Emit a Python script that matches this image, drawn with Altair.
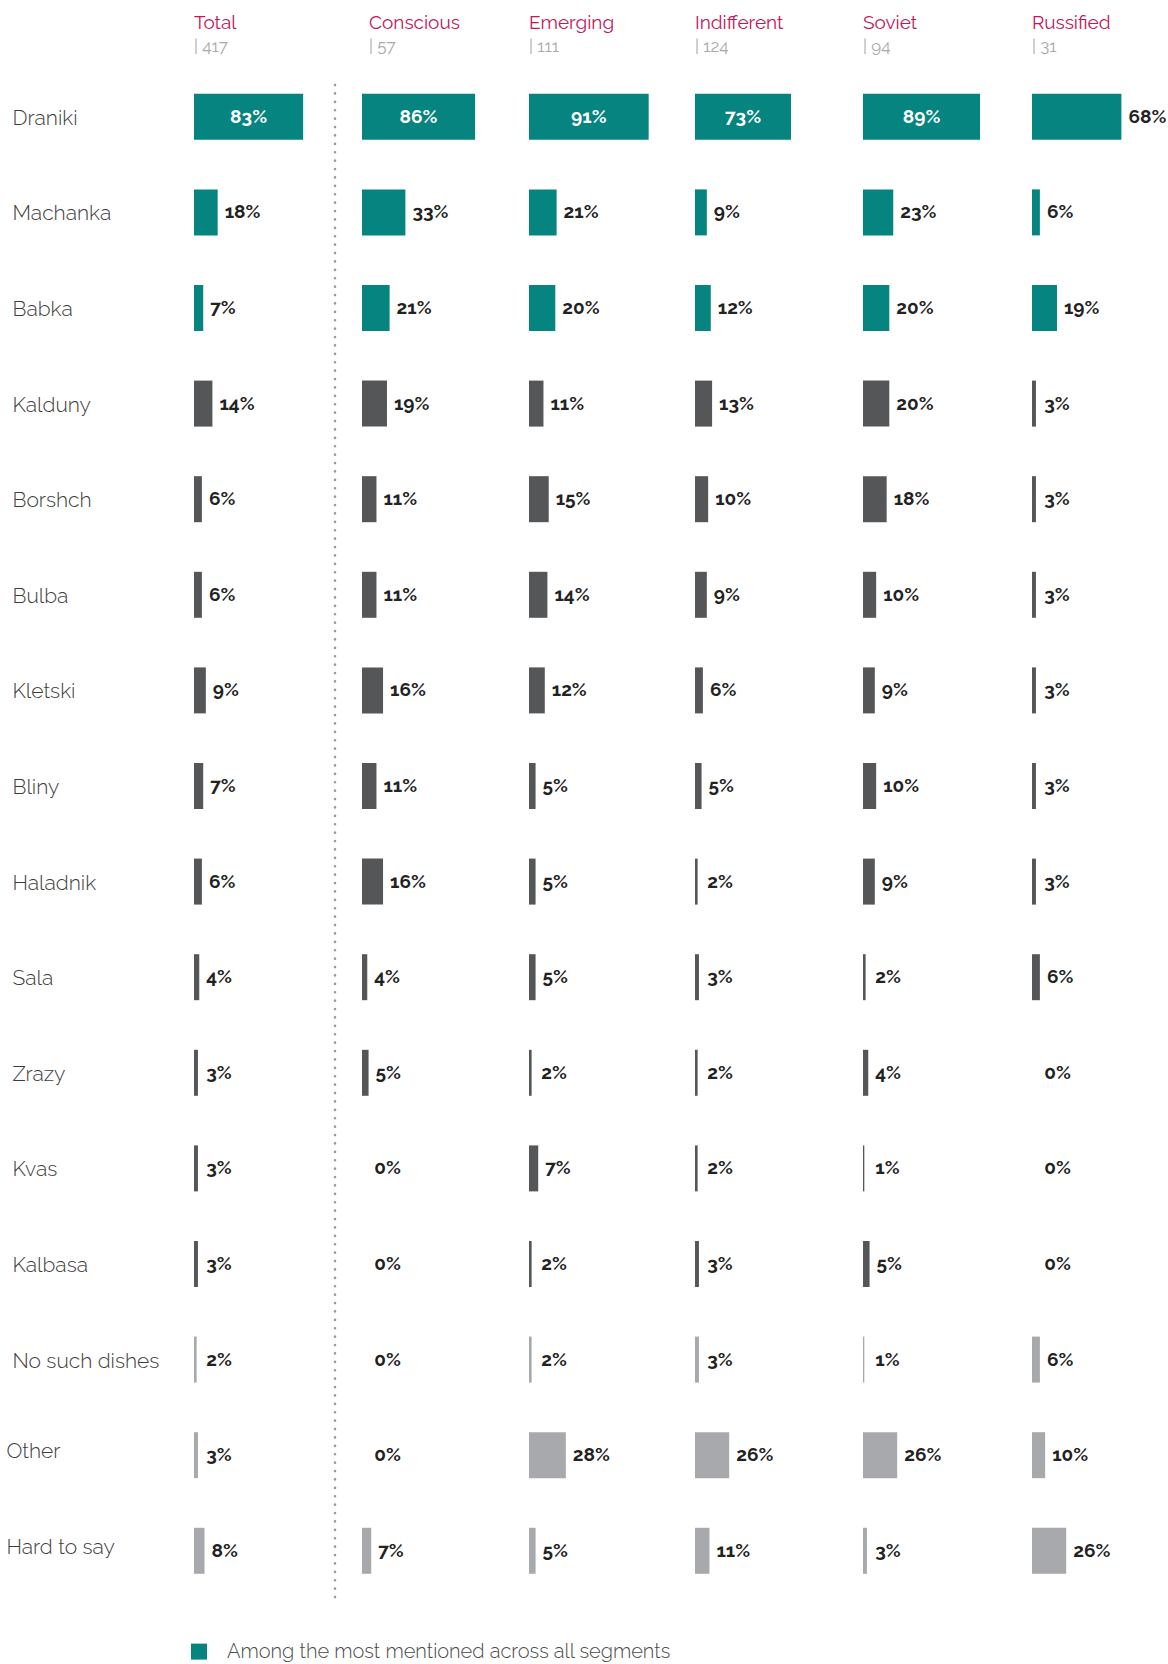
import altair as alt
import pandas as pd

# ---------------- data ----------------
dishes = ["Draniki", "Machanka", "Babka", "Kalduny", "Borshch", "Bulba", "Kletski",
          "Bliny", "Haladnik", "Sala", "Zrazy", "Kvas", "Kalbasa",
          "No such dishes", "Other", "Hard to say"]
dish_group = ["top"] * 3 + ["mid"] * 10 + ["low"] * 3

segments = ["Total", "Conscious", "Emerging", "Indifferent", "Soviet", "Russified"]
bases = [417, 57, 111, 124, 94, 31]

total = [83, 18, 7, 14, 6, 6, 9, 7, 6, 4, 3, 3, 3, 2, 3, 8]
conscious = [86, 33, 21, 19, 11, 11, 16, 11, 16, 4, 5, 0, 0, 0, 0, 7]
emerging = [91, 21, 20, 11, 15, 14, 12, 5, 5, 5, 2, 7, 2, 2, 28, 5]
indifferent = [73, 9, 12, 13, 10, 9, 6, 5, 2, 3, 2, 2, 3, 3, 26, 11]
soviet = [89, 23, 20, 20, 18, 10, 9, 10, 9, 2, 4, 1, 5, 1, 26, 3]
russified = [68, 6, 19, 3, 3, 3, 3, 3, 3, 6, 0, 0, 0, 6, 10, 26]
series = [total, conscious, emerging, indifferent, soviet, russified]

legend_label = "Among the most mentioned across all segments"

# ---------------- style ----------------
TEAL = "#058480"
DARK = "#555658"
LIGHT = "#a8a9ac"
CRIMSON = "#c0185b"
FONT = "Raleway, 'Open Sans', Lato, sans-serif"
NUMFONT = "Raleway, Lato, 'Open Sans', sans-serif"

PX = 1.315           # pixels per percentage point
ROW_STEP = 95.6
N = len(dishes)
H = ROW_STEP * N
BAR_H = 46
PIN = 1 - BAR_H / ROW_STEP
widths = [168.0, 167.0, 165.8, 167.5, 168.3, 130]
title_dx = [0, 7, 0, 0, 0, 0]
shifted = "datum.value == 'Other' || datum.value == 'Hard to say'"

color_scale = alt.Scale(domain=["top", "mid", "low"], range=[TEAL, DARK, LIGHT])
legend = alt.Legend(
    title=None, values=["top"], labelExpr=f"'{legend_label}'",
    orient="none", legendX=-5, legendY=H + 43,
    symbolType="square", symbolSize=256, symbolStrokeWidth=0, symbolOpacity=1,
    labelFontSize=20, labelFont=FONT, labelFontWeight=300, labelColor="#4a4a4a",
    labelOffset=18, labelLimit=700,
)


def panel(i):
    df = pd.DataFrame({"dish": dishes, "group": dish_group, "value": series[i]})
    w = widths[i]
    xscale = alt.Scale(domain=[0, w / PX], nice=False, zero=True)
    if i == 0:
        yaxis = alt.Axis(title=None, domain=False, ticks=False, tickSize=0,
                         labelAlign="left",
                         labelPadding={"condition": {"test": shifted, "value": 188}, "value": 182},
                         labelOffset={"condition": {"test": shifted, "value": -3}, "value": 2},
                         labelFontSize=21,
                         labelFont=FONT, labelFontWeight=300, labelColor="#3c3c3c",
                         labelLimit=220, grid=False)
    else:
        yaxis = None
    y = alt.Y("dish:N", sort=dishes,
              scale=alt.Scale(paddingInner=PIN, paddingOuter=PIN / 2, round=False),
              axis=yaxis)
    base = alt.Chart(df)
    bars = base.mark_bar().encode(
        x=alt.X("value:Q", scale=xscale, axis=None),
        y=y,
        color=alt.Color("group:N", scale=color_scale, legend=legend),
    )
    inside = base.transform_filter("datum.value >= 70").transform_calculate(
        mid="datum.value / 2", label="datum.value + '%'"
    ).mark_text(color="white", fontWeight="bold", fontSize=19, font=NUMFONT).encode(
        x=alt.X("mid:Q", scale=xscale, axis=None), y=y, text="label:N"
    )
    outside = base.transform_filter("datum.value < 70").transform_calculate(
        lx="max(datum.value, 4)", label="datum.value + '%'"
    ).mark_text(color="#222222", fontWeight="bold", fontSize=19, font=NUMFONT,
                align="left", dx=7).encode(
        x=alt.X("lx:Q", scale=xscale, axis=None), y=y, text="label:N"
    )
    layers = [bars, inside, outside]
    if i == 0:
        sep = alt.Chart(pd.DataFrame({"k": [0]})).mark_rule(
            color="#9a9a9a", strokeWidth=2.6, strokeDash=[0.1, 8.3], strokeCap="round"
        ).encode(x=alt.value(141), y=alt.value(16), y2=alt.value(H))
        layers.append(sep)
    title = alt.TitleParams(
        text=segments[i], subtitle=f"| {bases[i]}", anchor="start", frame="group",
        dx=title_dx[i],
        font=FONT, fontSize=19, fontWeight="normal", color=CRIMSON,
        subtitleFont=FONT, subtitleFontSize=17, subtitleColor="#a9a9a9",
        subtitlePadding=6, offset=14,
    )
    return alt.layer(*layers).properties(width=w, height=H, title=title)


chart = alt.hconcat(*[panel(i) for i in range(len(segments))], spacing=0).properties(
    padding={"left": 6, "top": 14, "right": 0, "bottom": 0}
).configure(background="white", view=alt.ViewConfig(stroke=None))

chart.save("out.html", embed_options={"renderer": "svg", "actions": False})
